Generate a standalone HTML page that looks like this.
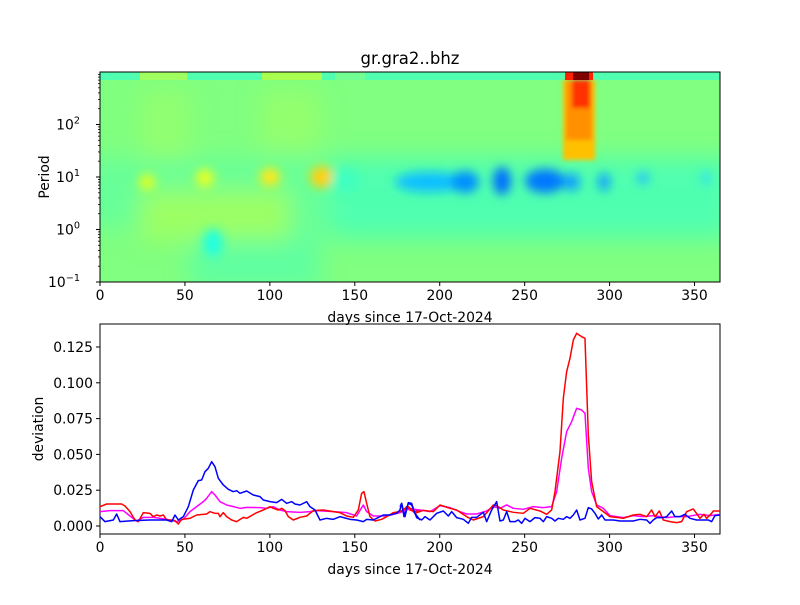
<!DOCTYPE html>
<html><head><meta charset="utf-8"><style>
body{margin:0;background:#fff}
svg text{font-family:"DejaVu Sans","Liberation Sans",sans-serif;fill:#000}
</style></head><body>
<svg id="s" width="800" height="600" viewBox="0 0 800 600" xmlns="http://www.w3.org/2000/svg">
<defs>
<filter id="b" x="-50%" y="-50%" width="200%" height="200%"><feGaussianBlur stdDeviation="5"/></filter>
<filter id="bb" x="-50%" y="-50%" width="200%" height="200%"><feGaussianBlur stdDeviation="12"/></filter>
<filter id="b2" x="-50%" y="-50%" width="200%" height="200%"><feGaussianBlur stdDeviation="2"/></filter>
<clipPath id="c"><rect x="100" y="72" width="620" height="210"/></clipPath>
</defs>
<g clip-path="url(#c)">
<rect x="100" y="72" width="620" height="210" fill="#80ff80"/>
<g filter="url(#bb)">
<rect x="80" y="158" width="660" height="70" fill="#68ff98"/>
<rect x="330" y="158" width="400" height="80" fill="#50ffb0"/>
<rect x="190" y="230" width="130" height="60" fill="#60ffa0"/>
<rect x="140" y="90" width="50" height="70" fill="#98ff68" opacity="0.7"/>
<rect x="260" y="90" width="60" height="60" fill="#a0ff60" opacity="0.6"/>
<rect x="140" y="190" width="150" height="50" fill="#a8ff58" opacity="0.8"/>
</g>
<g filter="url(#b)">
<ellipse cx="213" cy="243" rx="10" ry="14" fill="#20ffe0"/>
<ellipse cx="147" cy="182" rx="8" ry="8" fill="#e0ff20"/>
<ellipse cx="205" cy="178" rx="9" ry="9" fill="#e8ff20"/>
<ellipse cx="270" cy="177" rx="10" ry="9" fill="#ffe818"/>
<ellipse cx="322" cy="177" rx="12" ry="11" fill="#ffd010"/>
<ellipse cx="345" cy="180" rx="14" ry="12" fill="#40ffc0"/>
<ellipse cx="430" cy="182" rx="35" ry="10" fill="#10c0ff"/>
<ellipse cx="465" cy="182" rx="14" ry="11" fill="#0090ff"/>
<ellipse cx="502" cy="181" rx="9" ry="14" fill="#0070ff"/>
<ellipse cx="545" cy="181" rx="20" ry="12" fill="#0078ff"/>
<ellipse cx="572" cy="182" rx="8" ry="9" fill="#10a0ff"/>
<ellipse cx="604" cy="182" rx="6" ry="9" fill="#10a0ff"/>
<ellipse cx="643" cy="178" rx="6" ry="6" fill="#20c0ff"/>
<ellipse cx="706" cy="178" rx="5" ry="6" fill="#30e0f0"/>
</g>
<rect x="100" y="72" width="620" height="8" fill="#50ffb0"/>
<rect x="140" y="72" width="47" height="8" fill="#a0ff60"/>
<rect x="262" y="72" width="60" height="8" fill="#a8ff50"/>
<rect x="335" y="72" width="30" height="8" fill="#70ff90"/>
<g filter="url(#b2)">
<rect x="563" y="80" width="32" height="80" fill="#ffc000"/>
<rect x="566" y="80" width="26" height="60" fill="#ff9000"/>
<rect x="572" y="80" width="18" height="28" fill="#ff3000"/>
</g>
<rect x="565" y="72" width="28" height="8" fill="#ff2000"/>
<rect x="573" y="72" width="16" height="8" fill="#800000"/>
</g>
<rect x="100" y="72" width="620" height="210" fill="none" stroke="#000" stroke-width="1"/>
<rect x="100" y="324" width="620" height="210" fill="none" stroke="#000" stroke-width="1"/>
<g fill="none" stroke-width="4.5" stroke-linejoin="round">
<g transform="translate(100,440) scale(0.3333)">
<polyline stroke="#ff00ff" points="0,215 30,212 70,212 90,228 110,243 130,232 160,232 200,238 230,245 250,238 270,215 290,200 310,185 320,175 335,155 345,165 360,185 380,195 400,200 420,205 440,202 480,203 500,205 520,200 540,210 560,215 600,217 630,215 650,212 700,215 740,218 770,228 790,195 800,215 820,228 860,228 900,218 930,205 960,212"/>
<polyline stroke="#ff0000" points="0,200 20,192 65,192 75,198 90,215 105,240 115,245 130,218 150,220 160,230 170,225 180,228 190,225 200,240 215,240 225,242 235,252 245,238 270,235 290,225 320,222 330,215 345,220 355,220 360,230 370,218 380,230 395,240 410,245 430,232 440,235 470,218 490,210 510,200 520,205 535,210 545,205 555,212 565,230 580,240 600,232 620,228 640,212 670,210 700,215 720,218 740,228 760,232 775,210 785,160 792,155 800,190 810,230 825,243 845,238 860,230 880,218 900,215 910,212 920,200 930,210 945,215 960,210"/>
<polyline stroke="#0000ff" points="0,230 15,245 40,240 50,222 60,245 100,242 150,240 200,240 215,245 225,225 235,240 250,230 265,200 280,150 295,122 305,120 315,95 325,85 335,65 345,80 355,115 370,135 385,148 400,155 410,152 420,160 440,153 460,165 480,170 490,180 510,185 530,188 545,178 560,190 575,185 585,192 600,195 620,185 630,200 645,210 660,240 680,235 700,238 720,230 750,238 770,240 790,245 800,238 820,240 830,235 850,225 870,225 890,220 900,210 905,190 915,230 925,188 935,190 945,220 960,240"/>
</g>
<g transform="translate(400,325) scale(0.3333)">
<polyline stroke="#ff00ff" points="0,560 30,552 60,555 90,560 120,542 150,548 180,560 200,567 230,567 260,558 280,545 300,550 320,540 340,550 370,553 400,545 430,548 455,545 470,500 485,400 500,320 515,290 530,250 545,255 555,265 565,430 575,500 590,540 610,550 630,572 670,578 700,572 730,575 760,572 800,578 830,575 860,575 900,568 930,572 960,568"/>
<polyline stroke="#ff0000" points="0,560 25,545 45,565 70,556 100,560 120,540 150,550 170,555 200,575 220,585 250,575 280,540 290,542 310,555 340,562 370,565 390,550 420,558 440,568 455,555 465,500 480,380 490,220 500,140 510,100 520,45 530,25 545,35 555,40 565,330 575,470 590,545 610,560 630,575 670,580 700,570 720,568 740,575 755,555 765,575 778,558 790,585 810,590 830,593 845,590 860,560 880,552 900,580 912,568 920,580 935,565 940,558 960,558"/>
<polyline stroke="#0000ff" points="0,545 5,535 12,575 25,535 35,540 50,578 65,585 75,575 90,585 110,565 130,558 145,573 155,560 170,578 190,583 205,595 215,577 230,577 250,562 260,590 275,555 290,530 300,588 310,585 320,560 330,590 345,590 355,585 365,595 375,580 390,590 405,578 420,580 430,590 440,575 455,580 465,588 475,580 490,583 500,575 510,580 520,570 530,555 540,585 555,580 565,548 575,552 585,565 595,582 605,570 615,585 640,585 660,588 680,588 700,588 720,583 740,585 750,595 760,585 770,578 790,578 800,575 815,558 825,575 840,575 855,568 870,580 890,585 910,585 925,585 935,590 945,572 960,570"/>
</g>
</g>
<g id="ax" font-size="13.9"></g>
<text x="410" y="64" font-size="16.5" text-anchor="middle">gr.gra2..bhz</text>
<text x="410" y="322" font-size="13.9" text-anchor="middle">days since 17-Oct-2024</text>
<text x="410" y="574" font-size="13.9" text-anchor="middle">days since 17-Oct-2024</text>
<text transform="translate(49,177) rotate(-90)" font-size="13.9" text-anchor="middle">Period</text>
<text transform="translate(43,429) rotate(-90)" font-size="13.9" text-anchor="middle">deviation</text>
</svg>
<script>
var g=document.getElementById('ax'),h='';
for(var d=0;d<=350;d+=50){var x=100+d*620/365;
h+='<line x1="'+x+'" x2="'+x+'" y1="282" y2="286" stroke="#000"/><text x="'+x+'" y="300" text-anchor="middle">'+d+'</text>';
h+='<line x1="'+x+'" x2="'+x+'" y1="534" y2="538" stroke="#000"/><text x="'+x+'" y="552" text-anchor="middle">'+d+'</text>';}
var dec=52.5;
for(var e=-1;e<=2;e++){var y=282-(e+1)*dec;
h+='<line x1="96" x2="100" y1="'+y+'" y2="'+y+'" stroke="#000"/><text x="80" y="'+(y+5)+'" text-anchor="end">10<tspan font-size="9.7" dy="-6">'+(e<0?'\u22121':e)+'</tspan></text>';
for(var m=2;m<=9;m++){var yy=y-Math.log10(m)*dec;if(yy>=72)h+='<line x1="98" x2="100" y1="'+yy+'" y2="'+yy+'" stroke="#000" stroke-width="0.8"/>';}}
var labs=['0.000','0.025','0.050','0.075','0.100','0.125'];
for(var i=0;i<6;i++){var y=526-i*35.8;
h+='<line x1="96" x2="100" y1="'+y+'" y2="'+y+'" stroke="#000"/><text x="93" y="'+(y+5)+'" text-anchor="end">'+labs[i]+'</text>';}
g.innerHTML=h;
</script>
</body></html>
